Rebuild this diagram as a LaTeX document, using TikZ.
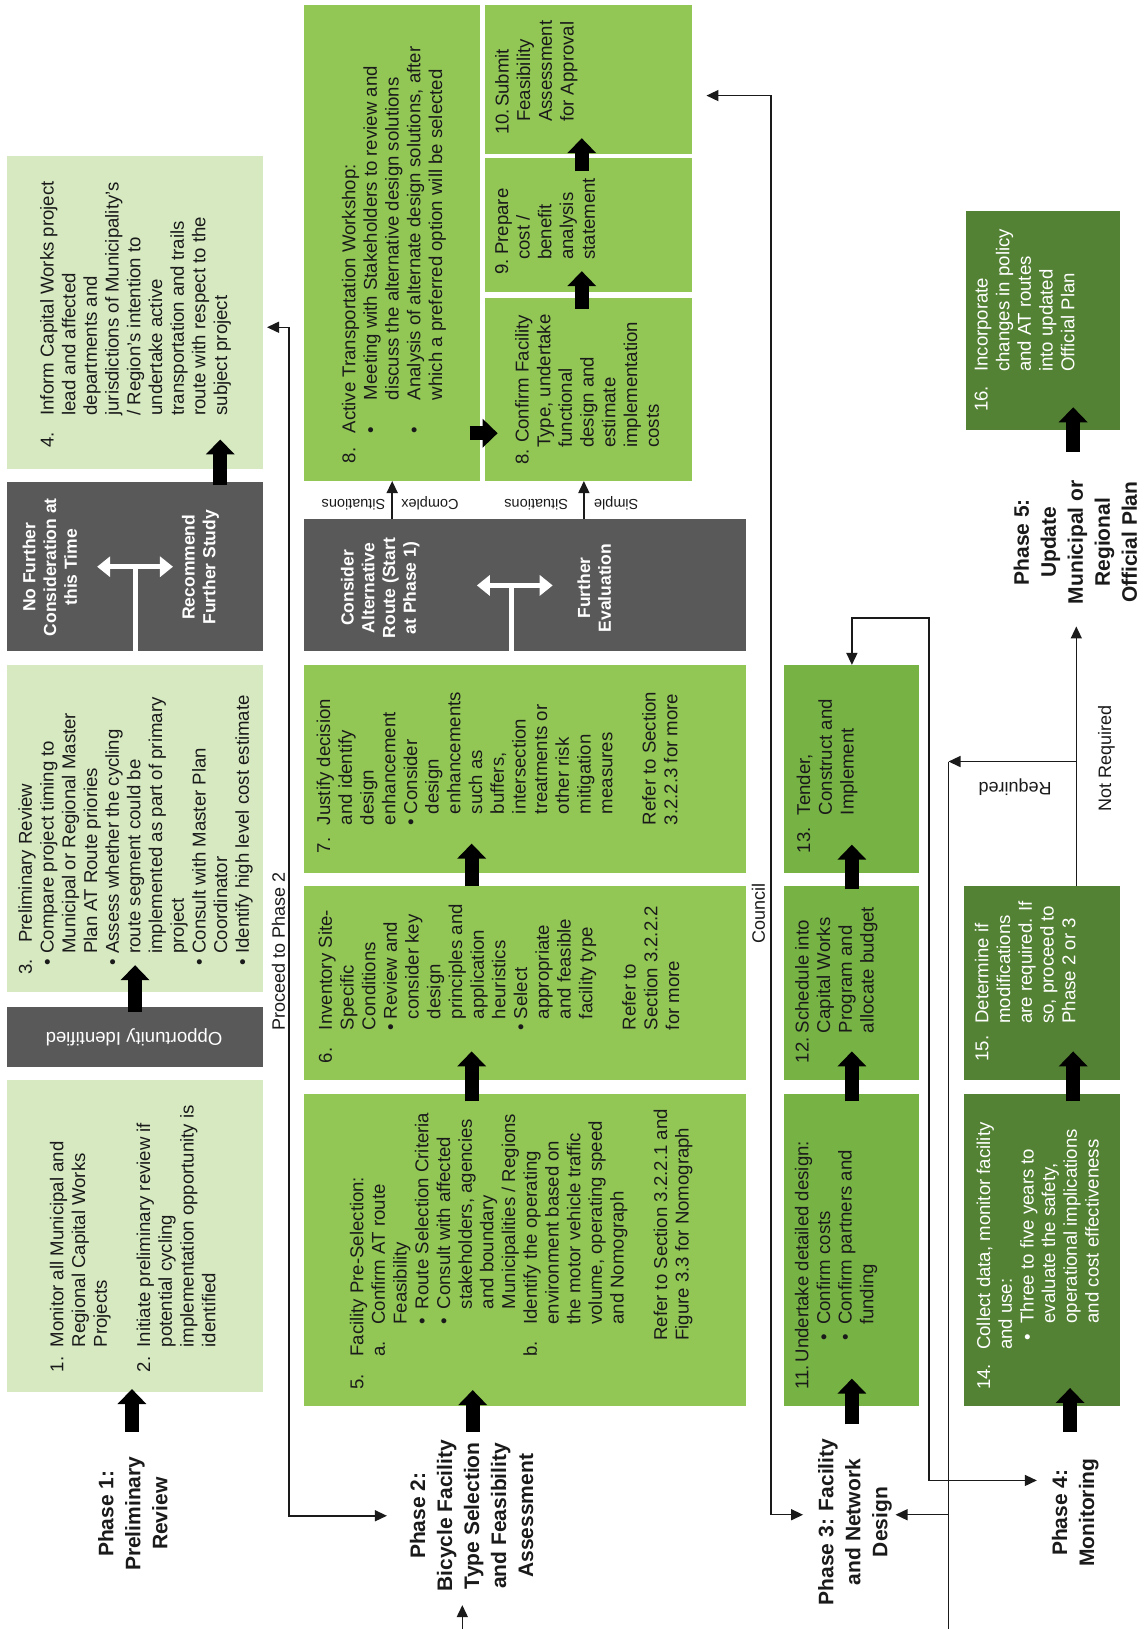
\documentclass[tikz,border=0pt]{standalone}
\usepackage{fontspec}
\setmainfont{Liberation Sans}
\usetikzlibrary{arrows.meta,fit,calc}
\definecolor{lgreen}{HTML}{D6E9C1}
\definecolor{mgreen}{HTML}{92C756}
\definecolor{pgreen}{HTML}{77B244}
\definecolor{dgreen}{HTML}{548235}
\definecolor{dgrey}{HTML}{595959}
\definecolor{ink}{HTML}{1A1A1A}
\newcommand{\nb}[2]{\makebox[#1pt][l]{#2}}
\newcommand{\ii}[1]{\hspace*{#1pt}}
\begin{document}
\begin{tikzpicture}[x=1.039pt,y=-1.039pt,
  box/.style={inner sep=0pt,outer sep=0pt,draw=none},
  txt/.style={rotate=90,anchor=north west,inner sep=0pt,align=left,text=ink,
     font=\fontsize{18.6}{21.7}\selectfont, execute at begin node=\strut},
  wtxt/.style={txt,text=white},
  phase/.style={rotate=90,align=center,inner sep=0pt,text=ink,font=\bfseries\fontsize{21}{27}\selectfont},
  dtxt/.style={rotate=90,align=center,inner sep=0pt,text=white,font=\bfseries\fontsize{17.5}{20.8}\selectfont},
  lbl/.style={inner sep=0pt,text=ink,font=\fontsize{18}{21}\selectfont},
  slbl/.style={inner sep=0pt,text=ink,font=\fontsize{14.5}{17}\selectfont},
  blk/.style={line width=14pt,-{Triangle[length=15pt,width=28pt]}},
  conn/.style={ink,line width=1.5pt,-{Triangle[length=12pt,width=11pt]}},
  conn2/.style={ink,line width=1.5pt,{Triangle[length=12pt,width=11pt]}-{Triangle[length=12pt,width=11pt]}},
  plain/.style={ink,line width=1.5pt},
  wline/.style={white,line width=5pt},
  warr/.style={white,line width=5pt,{Triangle[length=13pt,width=20pt]}-{Triangle[length=13pt,width=20pt]}}
]
\fill[white] (0,0) rectangle (1103,1568);
\path[use as bounding box] (0,0) rectangle (1103,1568);

% ---------- boxes ----------
\node[box,fill=lgreen,fit={(7,150)(253,451)}] (b4) {};
\node[box,fill=dgrey,fit={(7,464)(253,627)}] (dA1) {};
\node[box,fill=lgreen,fit={(7,640)(253,955)}] (b3) {};
\node[box,fill=dgrey,fit={(7,969)(253,1027)}] (dA2) {};
\node[box,fill=lgreen,fit={(7,1040)(253,1340)}] (b1) {};
\node[box,fill=mgreen,fit={(293,5)(462,463)}] (b8) {};
\node[box,fill=mgreen,fit={(467,5)(666,148)}] (b10) {};
\node[box,fill=mgreen,fit={(467,152)(666,281)}] (b9) {};
\node[box,fill=mgreen,fit={(467,287)(666,463)}] (b8b) {};
\node[box,fill=dgrey,fit={(293,500)(718,627)}] (dB) {};
\node[box,fill=mgreen,fit={(293,640)(718,840)}] (b7) {};
\node[box,fill=mgreen,fit={(293,853)(718,1040)}] (b6) {};
\node[box,fill=mgreen,fit={(293,1053)(718,1353)}] (b5) {};
\node[box,fill=pgreen,fit={(755,640)(885,840)}] (b13) {};
\node[box,fill=pgreen,fit={(755,853)(885,1040)}] (b12) {};
\node[box,fill=pgreen,fit={(755,1053)(885,1353)}] (b11) {};
\node[box,fill=dgreen,fit={(928,853)(1078,1040)}] (b15) {};
\node[box,fill=dgreen,fit={(928,1053)(1078,1353)}] (b14) {};
\node[box,fill=dgreen,fit={(930,203)(1078,414)}] (b16) {};

% ---------- box texts ----------
\node[txt] (t1) at (47.9,1321) {\nb{25}{1.}Monitor all Municipal and\\
\ii{25}Regional Capital Works\\
\ii{25}Projects\\[21.7pt]
\nb{25}{2.}Initiate preliminary review if\\
\ii{25}potential cycling\\
\ii{25}implementation opportunity is\\
\ii{25}identified};

\node[txt] (t3) at (17.6,938.4) {\nb{32}{3.}Preliminary Review\\
\ii{9}\nb{12}{•}Compare project timing to\\
\ii{21}Municipal or Regional Master\\
\ii{21}Plan AT Route priories\\
\ii{9}\nb{12}{•}Assess whether the cycling\\
\ii{21}route segment could be\\
\ii{21}implemented as part of primary\\
\ii{21}project\\
\ii{9}\nb{12}{•}Consult with Master Plan\\
\ii{21}Coordinator\\
\ii{9}\nb{12}{•}Identify high level cost estimate};

\node[txt] (t4) at (38.4,431) {\nb{32}{4.}Inform Capital Works project\\
\ii{32}lead and affected\\
\ii{32}departments and\\
\ii{32}jurisdictions of Municipality’s\\
\ii{32}/ Region’s intention to\\
\ii{32}undertake active\\
\ii{32}transportation and trails\\
\ii{32}route with respect to the\\
\ii{32}subject project};

\node[txt] (t5) at (336.5,1337.8) {\nb{33}{5.}Facility Pre-Selection:\\
\ii{33}\nb{32}{a.}Confirm AT route\\
\ii{65}Feasibility\\
\ii{65}\nb{15.5}{•}Route Selection Criteria\\
\ii{65}\nb{15.5}{•}Consult with affected\\
\ii{80.5}stakeholders, agencies\\
\ii{80.5}and boundary\\
\ii{80.5}Municipalities / Regions\\
\ii{33}\nb{32}{b.}Identify the operating\\
\ii{65}environment based on\\
\ii{65}the motor vehicle traffic\\
\ii{65}volume, operating speed\\
\ii{65}and Nomograph\\[21.7pt]
\ii{49}Refer to Section 3.2.2.1 and\\
\ii{49}Figure 3.3 for Nomograph};

\node[txt] (t6) at (306.3,1023.4) {\nb{33}{6.}Inventory Site-\\
\ii{33}Specific\\
\ii{33}Conditions\\
\ii{33}\nb{11}{•}Review and\\
\ii{44}consider key\\
\ii{44}design\\
\ii{44}principles and\\
\ii{44}application\\
\ii{44}heuristics\\
\ii{33}\nb{11}{•}Select\\
\ii{44}appropriate\\
\ii{44}and feasible\\
\ii{44}facility type\\[21.7pt]
\ii{33}Refer to\\
\ii{33}Section 3.2.2.2\\
\ii{33}for more};

\node[txt] (t7) at (304.7,821.3) {\nb{28}{7.}Justify decision\\
\ii{28}and identify\\
\ii{28}design\\
\ii{28}enhancement\\
\ii{28}\nb{11}{•}Consider\\
\ii{39}design\\
\ii{39}enhancements\\
\ii{39}such as\\
\ii{39}buffers,\\
\ii{39}intersection\\
\ii{39}treatments or\\
\ii{39}other risk\\
\ii{39}mitigation\\
\ii{39}measures\\[21.7pt]
\ii{28}Refer to Section\\
\ii{28}3.2.2.3 for more};

\node[txt] (t8) at (328.8,446) {\nb{30}{8.}Active Transportation Workshop:\\
\ii{30}\nb{33}{•}Meeting with Stakeholders to review and\\
\ii{63}discuss the alternative design solutions\\
\ii{30}\nb{33}{•}Analysis of alternate design solutions, after\\
\ii{63}which a preferred option will be selected};

\node[txt] (t8b) at (495.6,447.6) {\nb{22}{8.}Confirm Facility\\
\ii{17}Type, undertake\\
\ii{17}functional\\
\ii{17}design and\\
\ii{17}estimate\\
\ii{17}implementation\\
\ii{17}costs};

\node[txt] (t9) at (476.3,264.7) {\nb{20}{9.}Prepare\\
\ii{15}cost /\\
\ii{15}benefit\\
\ii{15}analysis\\
\ii{15}statement};

\node[txt] (t10) at (476.3,130) {\nb{25}{10.}\,Submit\\
\ii{13}Feasibility\\
\ii{13}Assessment\\
\ii{13}for Approval};

\node[txt] (t11) at (764.9,1338) {\nb{24.5}{11.}\,Undertake detailed design:\\
\ii{49}\nb{16}{•}Confirm costs\\
\ii{49}\nb{16}{•}Confirm partners and\\
\ii{65}funding};

\node[txt] (t12) at (765.1,1023.4) {\nb{30}{12.}Schedule into\\
\ii{30}Capital Works\\
\ii{30}Program and\\
\ii{30}allocate budget};

\node[txt] (t13) at (766.7,821.3) {\nb{38}{13.}Tender,\\
\ii{38}Construct and\\
\ii{38}Implement};

\node[wtxt] (t14) at (939.9,1338) {\nb{40}{14.}Collect data, monitor facility\\
\ii{40}and use:\\
\ii{49}\nb{17.5}{•}Three to five years to\\
\ii{66.5}evaluate the safety,\\
\ii{66.5}operational implications\\
\ii{66.5}and cost effectiveness};

\node[wtxt] (t15) at (938.3,1022.1) {\nb{38}{15.}Determine if\\
\ii{38}modifications\\
\ii{38}are required. If\\
\ii{38}so, proceed to\\
\ii{38}Phase 2 or 3};

\node[wtxt] (t16) at (937.9,396.5) {\nb{40}{16.}Incorporate\\
\ii{40}changes in policy\\
\ii{40}and AT routes\\
\ii{40}into updated\\
\ii{40}Official Plan};

% ---------- dark box texts ----------
\node[dtxt] (dA1l) at (48,546) {No Further\\Consideration at\\this Time};
\node[dtxt] (dA1r) at (193,546) {Recommend\\Further Study};
\node[dtxt] (dBl) at (366,566) {Consider\\Alternative\\Route (Start\\at Phase 1)};
\node[dtxt] (dBr) at (572,566) {Further\\Evaluation};
\node[rotate=180,inner sep=0pt,text=white,font=\fontsize{18.6}{21}\selectfont] (dA2t) at (129,998) {Opportunity Identified};

\draw[wline] (dA1.south) -- (dA1.center);
\draw[warr] ($(dA1.center)+(-36.5,0)$) -- ($(dA1.center)+(36.5,0)$);
\draw[wline] ($(dB.south)+(-13.5,0)$) -- ($(dB.center)+(-13.5,0)$);
\draw[warr] ($(dB.center)+(-46.5,0)$) -- ($(dB.center)+(26.5,0)$);

% ---------- phase labels ----------
\node[phase] (ph1) at (128,1457) {Phase 1:\\Preliminary\\Review};
\node[phase] (ph2) at (454,1459) {Phase 2:\\Bicycle Facility\\Type Selection\\and Feasibility\\Assessment};
\node[phase] (ph3) at (823,1465) {Phase 3: Facility\\and Network\\Design};
\node[phase] (ph4) at (1035,1456) {Phase 4:\\Monitoring};
\node[phase] (ph5) at (1035,522) {Phase 5:\\Update\\Municipal or\\Regional\\Official Plan};

% ---------- free connector ends ----------
\coordinate (p3l) at (773,1458);
\coordinate (p3r) at (862,1458);
\coordinate (p4in) at (998,1425);
\coordinate (p5in) at (1036,603);
\coordinate (p2low) at (445,1545);
\coordinate (pbot) at (445,1568);
\coordinate (rqa) at (1036,733);
\coordinate (rqb) at (913,733);
\coordinate (rqc) at (913,1458);
\coordinate (rqd) at (913,1568);

% ---------- thin connectors ----------
\draw[conn2] ($(b4.east)+(4,14.5)$) -| (278,1459) -- ($(ph2.north)+(-22,0)$);
\draw[conn2] ($(b10.east)+(14,15.5)$) -| (742,1458) -- (p3l);
\draw[conn2] (b13.north) -- ++(0,-45) -| (894,1425) -- (p4in);
\draw[conn] ($(b15.north)+(33,0)$) -- (p5in);
\draw[conn] (rqa) -- (rqb);
\draw[plain] (rqb) -- (rqd);
\draw[conn] (rqc) -- (p3r);
\draw[conn] (pbot) -- (p2low);
\draw[conn] (b8.south |- dB.north) -- (b8.south);
\draw[conn] ($(b8b.south |- dB.north)+(-4.5,0)$) -- ($(b8b.south)+(-4.5,0)$);

% ---------- connector labels ----------
\node[lbl,rotate=90] (lp2) at (268,916) {Proceed to Phase 2};
\node[lbl,rotate=90] (lc) at (730,879) {Council};
\node[lbl,rotate=180] (lr) at (977,758) {Required};
\node[lbl,rotate=90] (lnr) at (1065,730) {Not Required};
\node[slbl,rotate=180] (lcx) at (375.5,484) {Complex\hspace{16pt}Situations};
\node[slbl,rotate=180] (lsm) at (550,484) {Simple\hspace{26pt}Situations};

% ---------- block arrows ----------
\draw[blk] ($(b1.south)+(-3,38)$) -- ($(b1.south)+(-3,-3)$);
\draw[blk] ($(b3.south)+(0,19)$) -- ($(b3.south)+(0,-26)$);
\draw[blk] ($(b4.south)+(82,16)$) -- ($(b4.south)+(82,-28)$);
\draw[blk] ($(b5.south)+(-50.5,25)$) -- ($(b5.south)+(-50.5,-15)$);
\draw[blk] ($(b5.north)+(-51.5,7)$) -- ($(b6.south)+(-51.5,-28)$);
\draw[blk] ($(b6.north)+(-51.5,0)$) -- ($(b7.south)+(-51.5,-28)$);
\draw[blk] ($(b8b.west)+(-15,42)$) -- ($(b8b.west)+(12,42)$);
\draw[blk] ($(b8b.north)+(-6.5,10)$) -- ($(b9.south)+(-6.5,-20)$);
\draw[blk] ($(b9.north)+(-6.5,13)$) -- ($(b10.south)+(-6.5,-15)$);
\draw[blk] ($(b11.south)+(0,18)$) -- ($(b11.south)+(0,-26)$);
\draw[blk] ($(b11.north)+(0,7)$) -- ($(b12.south)+(0,-28)$);
\draw[blk] ($(b12.north)+(0,3)$) -- ($(b13.south)+(0,-27)$);
\draw[blk] ($(b14.south)+(27,25)$) -- ($(b14.south)+(27,-17)$);
\draw[blk] ($(b14.north)+(30,7)$) -- ($(b15.south)+(30,-28)$);
\draw[blk] ($(b16.south)+(29,21)$) -- ($(b16.south)+(29,-22)$);
\end{tikzpicture}
\end{document}
